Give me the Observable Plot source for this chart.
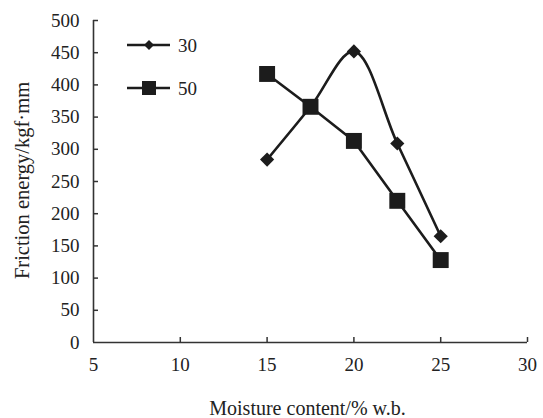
<!DOCTYPE html>
<html><head><meta charset="utf-8">
<script src="https://cdn.jsdelivr.net/npm/d3@7"></script>
<script src="https://cdn.jsdelivr.net/npm/@observablehq/plot@0.6"></script>
<style>
body{margin:0;background:#fff;}
#chart{position:relative;width:543px;height:418px;font-family:"Liberation Serif","Times New Roman",serif;}
#legend{position:absolute;left:0;top:0;pointer-events:none;}
</style></head><body><div id="chart"></div>
<script>
const moisture = [15, 17.5, 20, 22.5, 25];
const energy30 = [284, 366, 452, 309, 165];
const energy50 = [417, 366, 313, 220, 128];
const seriesNames = ["30", "50"];
const xTicks = [5, 10, 15, 20, 25, 30];
const yTicks = [0, 50, 100, 150, 200, 250, 300, 350, 400, 450, 500];
const xLabel = "Moisture content/% w.b.";
const yLabel = "Friction energy/kgf·mm";

const W = 543, H = 418, mL = 93, mR = 16, mT = 20, mB = 76;
const plotW = W - mL - mR, plotH = H - mT - mB;
const ink = "#1c1c1c", axisInk = "#333";
const font = "'Liberation Serif','Times New Roman',serif";
const rows30 = moisture.map((m, i) => ({m, e: energy30[i]}));
const rows50 = moisture.map((m, i) => ({m, e: energy50[i]}));

const chart = Plot.plot({
  width: W, height: H,
  marginLeft: mL, marginRight: mR, marginTop: mT, marginBottom: mB,
  style: {fontFamily: font, fontSize: "19px", color: "#222", background: "white", overflow: "visible"},
  x: {domain: [5, 30]},
  y: {domain: [0, 500]},
  marks: [
    Plot.axisX({ticks: xTicks, tickSize: 0, tickPadding: 15, label: null, tickFormat: d => String(d)}),
    Plot.axisY({ticks: yTicks, tickSize: 0, tickPadding: 14, label: null, tickFormat: d => String(d)}),
    Plot.tickX(xTicks.slice(1), {x: d => d, insetTop: plotH - 5, stroke: axisInk, strokeWidth: 1.5}),
    Plot.tickY(yTicks.slice(1), {y: d => d, insetRight: plotW - 5, stroke: axisInk, strokeWidth: 1.5}),
    Plot.ruleX([5], {stroke: axisInk, strokeWidth: 1.6}),
    Plot.ruleY([0], {stroke: axisInk, strokeWidth: 1.6}),
    Plot.line(rows50, {x: "m", y: "e", stroke: ink, strokeWidth: 2.6}),
    Plot.line(rows30, {x: "m", y: "e", curve: "catmull-rom", stroke: ink, strokeWidth: 2.6}),
    Plot.dot(rows30, {x: "m", y: "e", symbol: "diamond2", r: 6.4, fill: ink, stroke: null}),
    Plot.dot(rows50, {x: "m", y: "e", symbol: "square", r: 9, fill: ink, stroke: null}),
    Plot.text([xLabel], {frameAnchor: "bottom", lineAnchor: "middle", textAnchor: "middle", dx: -3, dy: 66, fontSize: 20, fill: "#222"}),
    Plot.text([yLabel], {frameAnchor: "left", textAnchor: "middle", lineAnchor: "middle", dx: -71, dy: -1, rotate: -90, fontSize: 20.5, fill: "#222"})
  ]
});
const host = document.getElementById("chart");
host.appendChild(chart);

// legend overlay
const leg = d3.select(host).append("svg").attr("id", "legend")
  .attr("width", W).attr("height", H);
const legRows = [{name: seriesNames[0], y: 45, sym: "diamond"}, {name: seriesNames[1], y: 88, sym: "square"}];
legRows.forEach(r => {
  leg.append("line").attr("x1", 127).attr("x2", 170).attr("y1", r.y).attr("y2", r.y)
    .attr("stroke", ink).attr("stroke-width", 2.4);
  if (r.sym === "diamond") {
    leg.append("path").attr("d", "M149,40 L154,45 L149,50 L144,45 Z").attr("fill", ink);
  } else {
    leg.append("rect").attr("x", 142).attr("y", r.y - 7).attr("width", 14).attr("height", 14).attr("fill", ink);
  }
  leg.append("text").attr("x", 178).attr("y", r.y).attr("dy", "0.35em")
    .attr("font-family", font).attr("font-size", 19).attr("fill", "#222").text(r.name);
});
</script></body></html>
